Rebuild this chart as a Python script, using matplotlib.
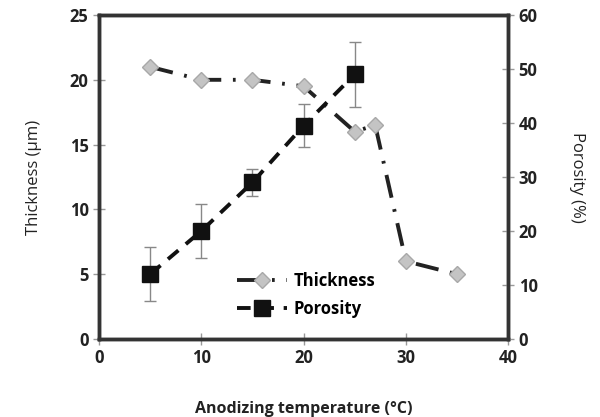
import matplotlib
matplotlib.use('Agg')
import matplotlib.pyplot as plt
from matplotlib.lines import Line2D

plt.rcParams['font.family'] = ['Open Sans', 'DejaVu Sans']

# 데이터
temp_thick = [5, 10, 15, 20, 25, 27, 30, 35]
thickness = [21, 20, 20, 19.5, 16, 16.5, 6, 5]

temp_poro = [5, 10, 15, 20, 25]
porosity = [12, 20, 29, 39.5, 49]
poro_err = [5, 5, 2.5, 4, 6]

fig = plt.figure(figsize=(6, 4.17), dpi=100)
ax = fig.add_axes([0.165, 0.187, 0.682, 0.777])
ax2 = ax.twinx()

thick_dash = (6, 3, 0.7, 3)
poro_dash = (3.5, 2.5)

# 두께 (왼쪽 축)
ax.plot(temp_thick, thickness, color='#222222', lw=2.8,
        dashes=thick_dash, marker='D', ms=8.5,
        mfc='#c4c4c4', mec='#a8a8a8', mew=1, zorder=3)

# 기공률 (오른쪽 축)
ax2.errorbar(temp_poro, porosity, yerr=poro_err, fmt='none',
             ecolor='#888888', elinewidth=1, capsize=4, capthick=1, zorder=2)
ax2.plot(temp_poro, porosity, color='#111111', lw=2.8, dashes=poro_dash,
         marker='s', ms=11, mfc='#111111', mec='#111111', zorder=3)

ax.set_xlim(0, 40)
ax.set_ylim(0, 25)
ax2.set_ylim(0, 60)
ax.set_xticks([0, 10, 20, 30, 40])
ax.set_yticks([0, 5, 10, 15, 20, 25])
ax2.set_yticks([0, 10, 20, 30, 40, 50, 60])

for a in (ax, ax2):
    for s in a.spines.values():
        s.set_color('#333333')
        s.set_linewidth(2.5)
    a.tick_params(direction='inout', length=8, width=1, color='#999999',
                  labelsize=12, labelcolor='#222222')
    for lab in a.get_xticklabels() + a.get_yticklabels():
        lab.set_fontweight('bold')

ax.set_xlabel('Anodizing temperature (°C)', fontsize=11.5, fontweight='bold',
              labelpad=24, color='#222222')
ax.set_ylabel('Thickness (µm)', fontsize=12, labelpad=20, color='#222222',
              fontweight='medium')
ax2.set_ylabel('Porosity (%)', fontsize=12, rotation=-90, labelpad=34,
               color='#222222', fontweight='medium')

handles = [
    Line2D([], [], color='#222222', lw=2.8, dashes=thick_dash, marker='D',
           ms=8.5, mfc='#c4c4c4', mec='#a8a8a8'),
    Line2D([], [], color='#111111', lw=2.8, dashes=poro_dash, marker='s',
           ms=11, mfc='#111111', mec='#111111'),
]
leg = ax.legend(handles, ['Thickness', 'Porosity'], loc='lower left',
                bbox_to_anchor=(0.3, 0.02), frameon=False, fontsize=12,
                handlelength=3, labelspacing=0.6, handletextpad=0.4)
for t in leg.get_texts():
    t.set_fontweight('bold')

fig.savefig('out.png', dpi=100)
